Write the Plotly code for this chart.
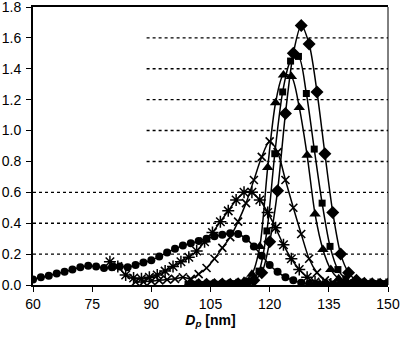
import plotly.graph_objects as go

# Particle size distributions (mobility diameter D_p in nm)
circ_x = list(range(60, 151, 2))
circ_y = [0.035, 0.05, 0.06, 0.075, 0.085, 0.10, 0.115, 0.125, 0.12, 0.11,
          0.115, 0.12, 0.115, 0.13, 0.145, 0.16, 0.185, 0.21, 0.235, 0.255,
          0.27, 0.285, 0.30, 0.315, 0.325, 0.335, 0.33, 0.30, 0.25, 0.19,
          0.13, 0.085, 0.05, 0.03, 0.015, 0.008, 0.005, 0.004, 0.003, 0.004,
          0.003, 0.004, 0.003, 0.004, 0.003, 0.004]

ast_x = [79.5 + 2 * i for i in range(36)]
ast_y = [0.15, 0.12, 0.065, 0.045, 0.04, 0.05, 0.065, 0.09, 0.12, 0.15,
         0.18, 0.22, 0.28, 0.34, 0.41, 0.48, 0.55, 0.60, 0.60, 0.55,
         0.47, 0.37, 0.26, 0.17, 0.10, 0.05, 0.02, 0.01, 0.006, 0.004,
         0.005, 0.003, 0.004, 0.003, 0.004, 0.003]

x_x = list(range(86, 151, 2))
x_y = [0.02, 0.02, 0.025, 0.03, 0.035, 0.04, 0.05, 0.04, 0.07, 0.11,
       0.17, 0.24, 0.31, 0.41, 0.53, 0.68, 0.83, 0.93, 0.86, 0.68,
       0.50, 0.33, 0.17, 0.08, 0.03, 0.012, 0.006, 0.004, 0.005, 0.003,
       0.004, 0.003, 0.004]

tri_x = [99.5 + 2 * i for i in range(26)]
tri_y = [0.003, 0.005, 0.004, 0.006, 0.007, 0.008, 0.012, 0.025, 0.07, 0.25,
         0.76, 1.18, 1.36, 1.35, 1.15, 0.84, 0.46, 0.23, 0.10, 0.04,
         0.015, 0.008, 0.006, 0.004, 0.005, 0.004]

sq_x = [99.3 + 2 * i for i in range(26)]
sq_y = [0.004, 0.005, 0.003, 0.006, 0.005, 0.007, 0.009, 0.012, 0.025, 0.09,
        0.35, 0.85, 1.25, 1.45, 1.48, 1.24, 0.88, 0.53, 0.25, 0.10,
        0.04, 0.015, 0.008, 0.006, 0.004, 0.005]

dia_x = list(range(100, 151, 2))
dia_y = [0.004, 0.003, 0.005, 0.004, 0.006, 0.005, 0.008, 0.012, 0.03, 0.08,
         0.28, 0.61, 1.11, 1.50, 1.68, 1.56, 1.25, 0.85, 0.47, 0.20,
         0.08, 0.03, 0.012, 0.008, 0.005, 0.006]

x_ticks = [60, 75, 90, 105, 120, 135, 150]
y_ticks = [0.0, 0.2, 0.4, 0.6, 0.8, 1.0, 1.2, 1.4, 1.6, 1.8]
grid_full = [0.2, 0.4, 0.6]
grid_part = [0.8, 1.0, 1.2, 1.4, 1.6]
grid_part_start = 88.8

FONT = "Liberation Sans, Arial, sans-serif"

series = [
    (circ_x, circ_y, dict(symbol="circle", size=8)),
    (ast_x, ast_y, dict(symbol="asterisk-open", size=10, line=dict(width=1.5, color="black"))),
    (x_x, x_y, dict(symbol="x-thin-open", size=8, line=dict(width=1.6, color="black"))),
    (tri_x, tri_y, dict(symbol="triangle-up", size=10)),
    (sq_x, sq_y, dict(symbol="square", size=7)),
    (dia_x, dia_y, dict(symbol="diamond", size=10)),
]

fig = go.Figure()
for xs, ys, mk in series:
    mk = dict(mk)
    mk.setdefault("color", "black")
    fig.add_trace(go.Scatter(
        x=xs, y=ys, mode="lines+markers",
        line=dict(color="black", width=1.5, shape="spline", smoothing=0.8),
        marker=mk, showlegend=False, cliponaxis=True,
    ))

shapes = []
for g in grid_full:
    shapes.append(dict(type="line", xref="x", yref="y", x0=60, x1=150, y0=g, y1=g,
                       line=dict(color="black", width=1.4, dash="3px,3px"), layer="below"))
for g in grid_part:
    shapes.append(dict(type="line", xref="x", yref="y", x0=grid_part_start, x1=150, y0=g, y1=g,
                       line=dict(color="black", width=1.4, dash="3px,3px"), layer="below"))
# right frame edge
shapes.append(dict(type="line", xref="paper", yref="paper", x0=1, x1=1, y0=0, y1=1,
                   line=dict(color="black", width=1)))

fig.update_layout(
    width=400, height=341,
    margin=dict(l=33, r=12, t=7, b=56),
    paper_bgcolor="white", plot_bgcolor="white",
    font=dict(family=FONT, size=14, color="black"),
    shapes=shapes,
    xaxis=dict(
        range=[60, 150], tickvals=x_ticks, ticktext=[str(v) for v in x_ticks],
        automargin=False, ticklabeloverflow="allow",
        showgrid=False, zeroline=False, showline=True, linecolor="black", linewidth=1.5,
        mirror=True, ticks="outside", ticklen=5, tickwidth=1.3, tickcolor="black",
        tickfont=dict(size=14),
        title=dict(text="<b><i>D</i><sub><i>p</i></sub> [nm]</b>", font=dict(size=14), standoff=4),
    ),
    yaxis=dict(
        range=[0, 1.8], tickvals=y_ticks, ticktext=[f"{v:.1f}" for v in y_ticks],
        automargin=False, ticklabeloverflow="allow",
        showgrid=False, zeroline=False, showline=True, linecolor="black", linewidth=2,
        ticks="outside", ticklen=5, tickwidth=1.3, tickcolor="black",
        tickfont=dict(size=14), ticklabelstandoff=2,
    ),
)

fig.write_html("out.html")
